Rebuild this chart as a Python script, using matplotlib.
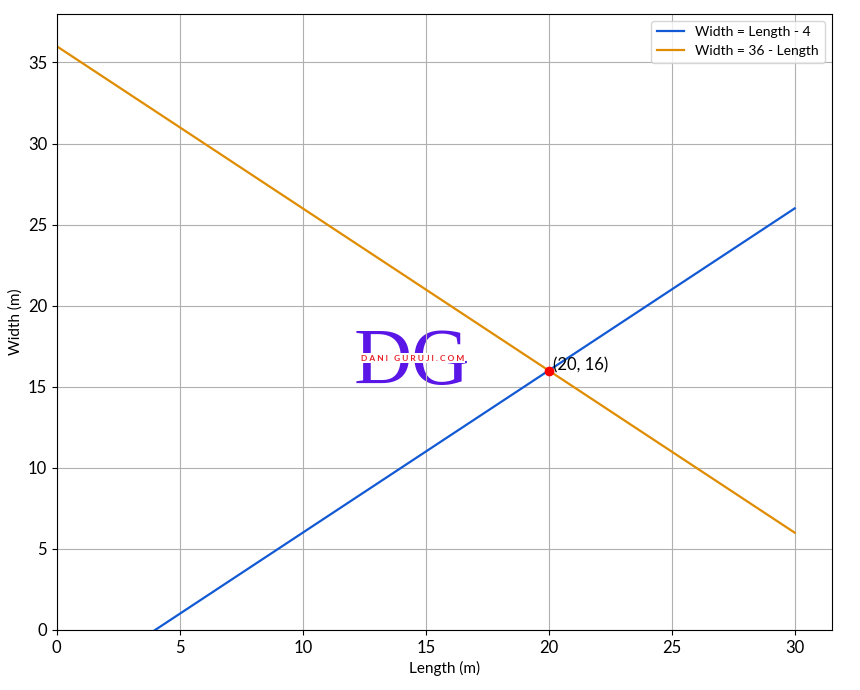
import matplotlib.pyplot as plt
import numpy as np

plt.rcParams["font.family"] = ["Lato", "DejaVu Sans"]

length = np.array([0, 30])
width_a = length - 4
width_b = 36 - length
point = (20, 16)

fig, ax = plt.subplots(figsize=(8.6, 6.9), dpi=100)
fig.subplots_adjust(left=0.066, right=0.967, top=0.98, bottom=0.087)

ax.plot(length, width_a, color="#1259d4", lw=1.6, label="Width = Length - 4")
ax.plot(length, width_b, color="#e08c00", lw=1.6, label="Width = 36 - Length")
ax.plot(*point, "o", color="red", ms=6, zorder=5)
ax.annotate("(20, 16)", point, xytext=(3, 0), textcoords="offset points", fontsize=12)

ax.set_xlim(left=0)
ax.set_ylim(bottom=0)
ax.set_xlabel("Length (m)", fontsize=11)
ax.set_ylabel("Width (m)", fontsize=11)
ax.tick_params(labelsize=12)
ax.grid(True, color="#b0b0b0")
ax.legend(loc="upper right")

# watermark
ax.text(14.45, 16.4, "DG", ha="center", va="center", fontsize=58, color="#5a16e6",
        family="Liberation Serif", zorder=1)
ax.text(14.45, 16.75, "D A N I   G U R U J I . C O M", ha="center", va="center",
        fontsize=6, color="#e8202a", fontweight="bold", zorder=2,
        bbox=dict(facecolor="white", edgecolor="none", pad=1))

fig.savefig("out.png", dpi=100)
